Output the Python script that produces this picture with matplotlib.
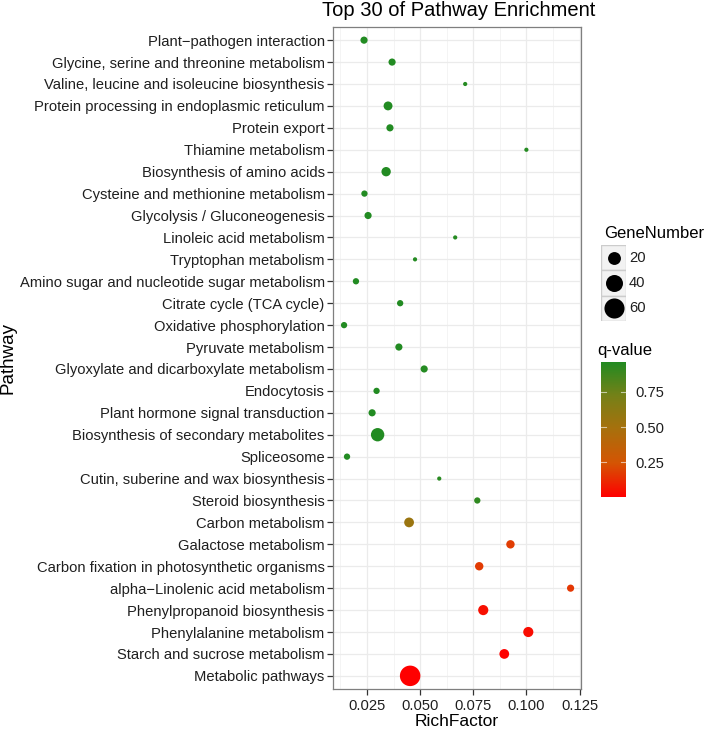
import numpy as np
import matplotlib
matplotlib.use('Agg')
import matplotlib.pyplot as plt
from matplotlib.colors import LinearSegmentedColormap, Normalize

plt.rcParams['font.family'] = ['Liberation Sans', 'DejaVu Sans']

# pathways, top to bottom as in the chart
pathways = [
    'Plant\u2212pathogen interaction',
    'Glycine, serine and threonine metabolism',
    'Valine, leucine and isoleucine biosynthesis',
    'Protein processing in endoplasmic reticulum',
    'Protein export',
    'Thiamine metabolism',
    'Biosynthesis of amino acids',
    'Cysteine and methionine metabolism',
    'Glycolysis / Gluconeogenesis',
    'Linoleic acid metabolism',
    'Tryptophan metabolism',
    'Amino sugar and nucleotide sugar metabolism',
    'Citrate cycle (TCA cycle)',
    'Oxidative phosphorylation',
    'Pyruvate metabolism',
    'Glyoxylate and dicarboxylate metabolism',
    'Endocytosis',
    'Plant hormone signal transduction',
    'Biosynthesis of secondary metabolites',
    'Spliceosome',
    'Cutin, suberine and wax biosynthesis',
    'Steroid biosynthesis',
    'Carbon metabolism',
    'Galactose metabolism',
    'Carbon fixation in photosynthetic organisms',
    'alpha\u2212Linolenic acid metabolism',
    'Phenylpropanoid biosynthesis',
    'Phenylalanine metabolism',
    'Starch and sucrose metabolism',
    'Metabolic pathways',
]
rich_factor = [0.0236, 0.0368, 0.0712, 0.0349, 0.0358, 0.1000, 0.0340, 0.0238,
               0.0255, 0.0665, 0.0476, 0.0198, 0.0406, 0.0142, 0.0400, 0.0519,
               0.0295, 0.0274, 0.0300, 0.0156, 0.0590, 0.0769, 0.0448, 0.0925,
               0.0778, 0.1208, 0.0797, 0.1009, 0.0896, 0.0453]
gene_number = [5, 5, 3, 8, 5, 3, 9, 4, 5, 3, 3, 4, 4, 4, 5, 5, 4, 5, 22, 4,
               3, 4, 10, 7, 7, 5, 11, 11, 10, 63]
q_value = [0.96, 0.96, 0.95, 0.96, 0.96, 0.95, 0.96, 0.96, 0.96, 0.95, 0.95,
           0.96, 0.96, 0.96, 0.96, 0.95, 0.96, 0.96, 0.96, 0.96, 0.94, 0.92,
           0.55, 0.18, 0.17, 0.16, 0.05, 0.04, 0.012, 0.005]

size_breaks = [20, 40, 60]
x_ticks = [0.025, 0.050, 0.075, 0.100, 0.125]
q_ticks = [0.25, 0.50, 0.75]

W, H = 709, 729
fig = plt.figure(figsize=(W / 100, H / 100), dpi=100)


def px_box(x0, y0, x1, y1):
    # pixel box (top-left origin) -> figure fraction rect
    return [x0 / W, 1 - y1 / H, (x1 - x0) / W, (y1 - y0) / H]


gmin, gmax = min(gene_number), max(gene_number)


def dot_size(v):
    frac = np.clip((np.asarray(v, float) - gmin) / (gmax - gmin), 0, 1)
    d_px = 4.2 + 16.3 * np.sqrt(frac)
    return (d_px * 0.72) ** 2


# red -> forestgreen, roughly like ggplot's Lab interpolation
cmap = LinearSegmentedColormap.from_list('qv', [
    (0.00, (255 / 255, 0, 0)),
    (0.25, (213 / 255, 85 / 255, 4 / 255)),
    (0.50, (169 / 255, 112 / 255, 13 / 255)),
    (0.75, (118 / 255, 129 / 255, 24 / 255)),
    (1.00, (34 / 255, 139 / 255, 34 / 255)),
])
norm = Normalize(min(q_value), max(q_value))

grey_txt = '#1f1f1f'
fs_tick = 10.65

# main panel
ax = fig.add_axes(px_box(333, 27, 581, 689))
n = len(pathways)
ypos = np.arange(n)[::-1]
ax.scatter(rich_factor, ypos, s=dot_size(gene_number), c=q_value,
           cmap=cmap, norm=norm, linewidths=0, zorder=3)

ax.set_xlim(0.009, 0.1257)
ax.set_ylim(-0.6, n - 0.4)
ax.set_xticks(x_ticks)
ax.set_xticklabels(['%.3f' % t for t in x_ticks])
ax.set_xticks(np.arange(0.0125, 0.13, 0.025), minor=True)
ax.set_yticks(ypos)
ax.set_yticklabels(pathways)
ax.grid(True, which='major', color='#EBEBEB', linewidth=0.9, zorder=0)
ax.grid(True, which='minor', axis='x', color='#F2F2F2', linewidth=0.6, zorder=0)
ax.set_axisbelow(True)
ax.tick_params(which='major', length=4, width=0.9, color='#333333',
               labelsize=fs_tick, labelcolor=grey_txt, pad=2)
ax.tick_params(axis='x', pad=3)
ax.tick_params(which='minor', length=0)
for sp in ax.spines.values():
    sp.set_color('#7F7F7F')
    sp.set_linewidth(0.9)

fig.text(457 / W, 1 - 722 / H, 'RichFactor', fontsize=12.5, ha='center', va='center')
fig.text(8 / W, 1 - 358 / H, 'Pathway', fontsize=13.5, rotation=90,
         ha='center', va='center')
fig.text(459 / W, 1 - 11 / H, 'Top 30 of Pathway Enrichment', fontsize=14.5,
         ha='center', va='center')

# size legend
fig.text(604 / W, 1 - 233 / H, 'GeneNumber', fontsize=12, ha='left', va='center')
key_top, key_h = 245, 25.3
lax = fig.add_axes(px_box(601, key_top, 626, key_top + key_h * len(size_breaks)))
lax.set_xlim(0, 1)
lax.set_ylim(len(size_breaks), 0)
for i, b in enumerate(size_breaks):
    lax.add_patch(plt.Rectangle((0, i), 1, 1, facecolor='#F2F2F2',
                                edgecolor='#CCCCCC', linewidth=1.0))
    lax.scatter(0.5, i + 0.5, s=dot_size(b), color='black', linewidths=0, zorder=3)
    fig.text(629 / W, 1 - (key_top + (i + 0.5) * key_h) / H, str(b),
             fontsize=fs_tick, color=grey_txt, ha='left', va='center')
lax.axis('off')

# colour bar
fig.text(597 / W, 1 - 350 / H, 'q-value', fontsize=12, ha='left', va='center')
cax = fig.add_axes(px_box(601, 362, 626, 497))
grad = np.linspace(norm.vmin, norm.vmax, 256).reshape(-1, 1)
cax.imshow(grad, cmap=cmap, norm=norm, aspect='auto', origin='lower',
           extent=[0, 1, norm.vmin, norm.vmax])
cax.set_xticks([])
cax.set_yticks(q_ticks)
cax.yaxis.tick_right()
cax.set_yticklabels(['%.2f' % t for t in q_ticks])
cax.tick_params(axis='y', length=0, labelsize=fs_tick, labelcolor=grey_txt, pad=7)
for t in q_ticks:
    cax.plot([0, 0.2], [t, t], color='white', linewidth=0.8, alpha=0.6)
    cax.plot([0.8, 1], [t, t], color='white', linewidth=0.8, alpha=0.6)
cax.set_xlim(0, 1)
cax.set_ylim(norm.vmin, norm.vmax)
for sp in cax.spines.values():
    sp.set_visible(False)

fig.savefig('out.png', dpi=100, facecolor='white')
